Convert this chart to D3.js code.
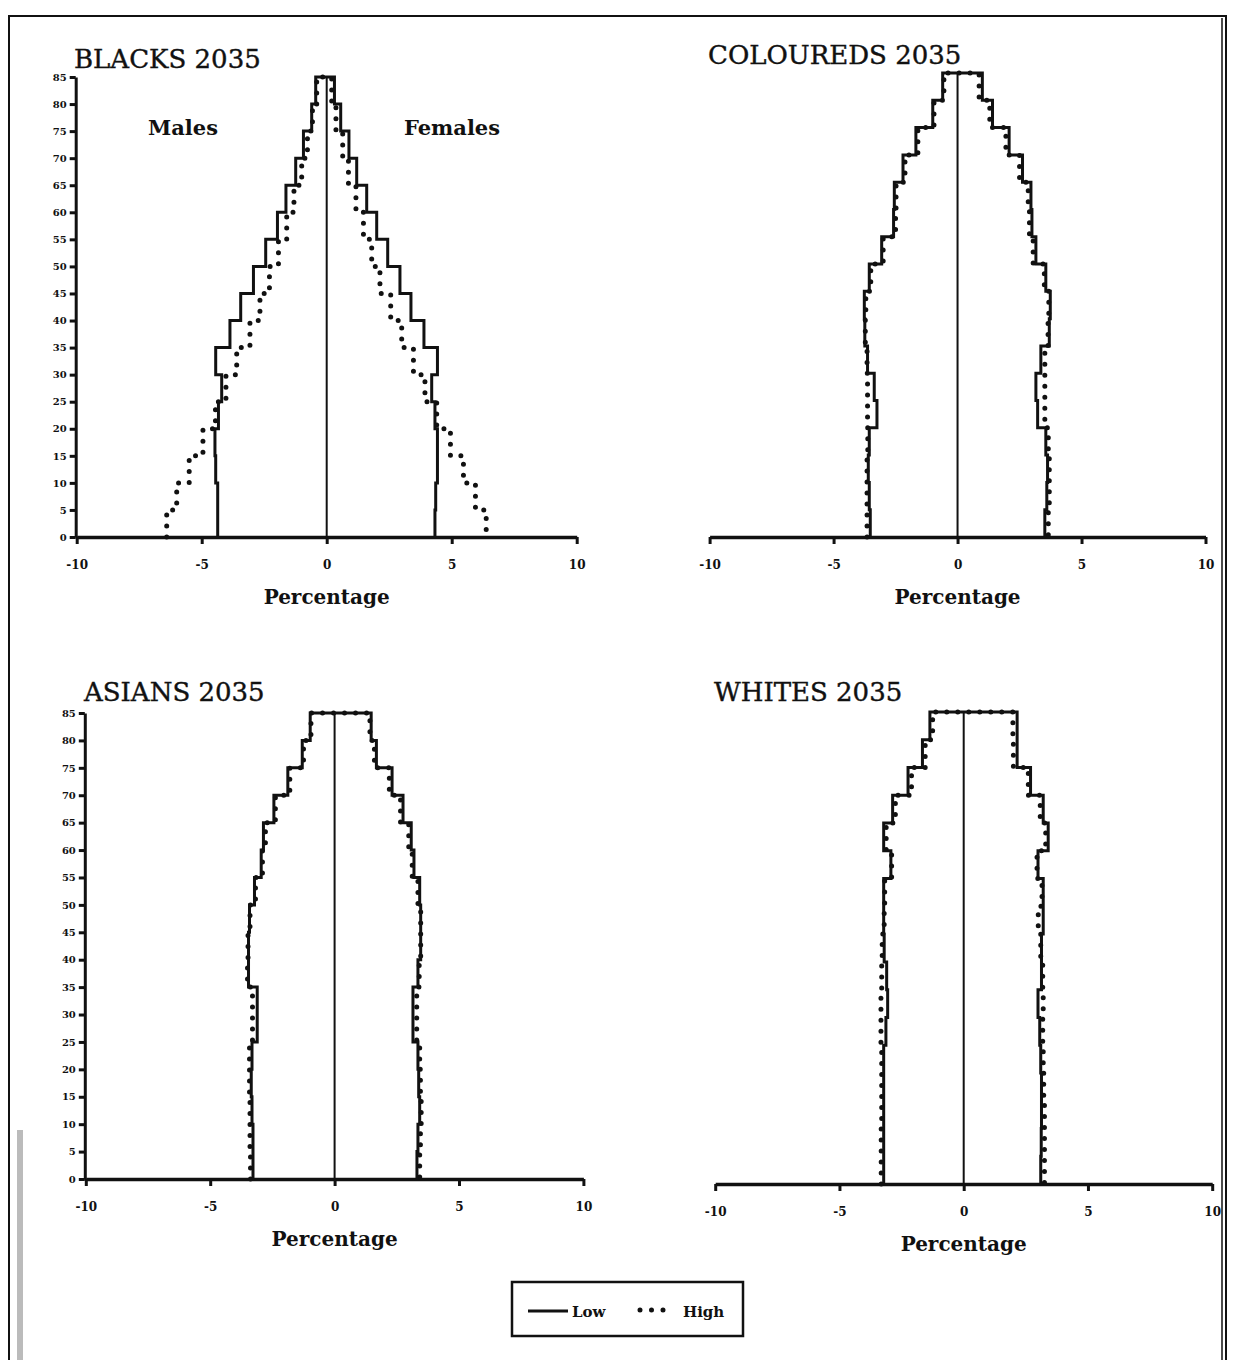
<!DOCTYPE html>
<html>
<head>
<meta charset="utf-8">
<script src="https://cdn.jsdelivr.net/npm/d3@7/dist/d3.min.js"></script>
<style>
  html, body { margin: 0; padding: 0; background: #fff; }
  svg { display: block; }
  .tick text { font-family: "DejaVu Serif", serif; font-weight: bold; fill: #111; }
</style>
</head>
<body>
<svg id="chart" width="1235" height="1360"></svg>
<script>
// ---------- DATA (percent of population, magnitudes; males plotted left) ----------
const ageGroups = ["0-4","5-9","10-14","15-19","20-24","25-29","30-34","35-39","40-44",
                   "45-49","50-54","55-59","60-64","65-69","70-74","75-79","80-84"];
const xTickValues = [-10, -5, 0, 5, 10];
const xTickLabels = ["-10", "-5", "0", "5", "10"];
const yTickValues = [0,5,10,15,20,25,30,35,40,45,50,55,60,65,70,75,80,85];
const seriesNames = ["Low", "High"];
const panelTitles = ["BLACKS 2035", "COLOUREDS 2035", "ASIANS 2035", "WHITES 2035"];

const blacksLowMale    = [4.36,4.36,4.44,4.47,4.33,4.20,4.44,3.87,3.44,2.93,2.44,1.97,1.63,1.24,0.93,0.60,0.44];
const blacksLowFemale  = [4.33,4.36,4.43,4.43,4.33,4.20,4.43,3.89,3.37,2.93,2.44,2.00,1.60,1.20,0.89,0.56,0.31];
const blacksHighMale   = [6.40,6.00,5.50,4.95,4.45,4.03,3.60,3.07,2.67,2.29,1.93,1.60,1.31,1.00,0.77,0.57,0.40];
const blacksHighFemale = [6.38,5.95,5.47,4.95,4.40,3.93,3.47,3.00,2.56,2.13,1.80,1.47,1.17,0.87,0.64,0.37,0.20];

const colouredsLowMale    = [3.52,3.56,3.60,3.56,3.25,3.36,3.63,3.74,3.76,3.56,3.06,2.58,2.55,2.20,1.68,1.00,0.60];
const colouredsLowFemale  = [3.52,3.60,3.63,3.56,3.23,3.16,3.36,3.70,3.74,3.56,3.16,3.00,2.96,2.62,2.08,1.41,1.00];
const colouredsHighMale   = [3.65,3.65,3.65,3.62,3.63,3.63,3.65,3.72,3.70,3.50,3.00,2.50,2.48,2.12,1.60,0.95,0.55];
const colouredsHighFemale = [3.66,3.70,3.70,3.66,3.52,3.52,3.52,3.65,3.68,3.50,3.05,2.90,2.85,2.50,1.95,1.30,0.87];

const asiansLowMale    = [3.28,3.28,3.32,3.35,3.32,3.11,3.11,3.46,3.46,3.42,3.22,2.95,2.86,2.44,1.88,1.30,0.98];
const asiansLowFemale  = [3.31,3.35,3.42,3.38,3.35,3.15,3.15,3.35,3.46,3.46,3.42,3.19,3.08,2.75,2.31,1.68,1.47];
const asiansHighMale   = [3.38,3.40,3.40,3.42,3.42,3.30,3.30,3.50,3.48,3.40,3.18,2.90,2.78,2.38,1.80,1.25,0.95];
const asiansHighFemale = [3.42,3.45,3.48,3.45,3.42,3.30,3.30,3.40,3.46,3.46,3.35,3.12,2.98,2.65,2.20,1.60,1.42];

const whitesLowMale    = [3.22,3.22,3.22,3.22,3.22,3.13,3.06,3.10,3.20,3.22,3.22,2.93,3.22,2.86,2.24,1.66,1.36];
const whitesLowFemale  = [3.10,3.12,3.13,3.13,3.10,3.06,2.99,3.13,3.13,3.20,3.20,2.99,3.40,3.20,2.69,2.15,2.15];
const whitesHighMale   = [3.32,3.32,3.30,3.30,3.30,3.33,3.33,3.30,3.28,3.20,3.18,2.90,3.12,2.75,2.10,1.55,1.25];
const whitesHighFemale = [3.25,3.25,3.25,3.22,3.20,3.18,3.20,3.18,3.10,3.00,3.15,2.95,3.30,3.08,2.60,2.00,1.98];

// ---------- LAYOUT ----------
const panels = [
  { title: panelTitles[0], low: [blacksLowMale, blacksLowFemale], high: [blacksHighMale, blacksHighFemale],
    x0: 76.7, x1: 576.7, yBot: 537, yTop: 77, yAxis: true, tx: 74, ty: 68, labels: true },
  { title: panelTitles[1], low: [colouredsLowMale, colouredsLowFemale], high: [colouredsHighMale, colouredsHighFemale],
    x0: 709.6, x1: 1205.5, yBot: 537, yTop: 73, yAxis: false, tx: 708, ty: 64 },
  { title: panelTitles[2], low: [asiansLowMale, asiansLowFemale], high: [asiansHighMale, asiansHighFemale],
    x0: 85.8, x1: 583.4, yBot: 1179, yTop: 713, yAxis: true, tx: 84, ty: 701 },
  { title: panelTitles[3], low: [whitesLowMale, whitesLowFemale], high: [whitesHighMale, whitesHighFemale],
    x0: 715.2, x1: 1212.2, yBot: 1184, yTop: 712, yAxis: false, tx: 714, ty: 701 }
];

const svg = d3.select("#chart");
const ink = "#111";

// outer frame
const frame = svg.append("g").attr("fill", "none").attr("stroke", ink);
frame.append("path").attr("d", "M9,1360 V16 H1226 V1360").attr("stroke-width", 2);
frame.append("path").attr("d", "M1222,18 V1360").attr("stroke-width", 1.5);
svg.append("rect").attr("x", 17).attr("y", 1130).attr("width", 6).attr("height", 230).attr("fill", "#bbb");

function outline(male, female) {
  const pts = [];
  male.forEach((v, i) => { pts.push([-v, i * 5]); pts.push([-v, (i + 1) * 5]); });
  for (let i = female.length - 1; i >= 0; i--) { pts.push([female[i], (i + 1) * 5]); pts.push([female[i], i * 5]); }
  return pts;
}

panels.forEach(p => {
  const x = d3.scaleLinear().domain([-10, 10]).range([p.x0, p.x1]);
  const y = d3.scaleLinear().domain([0, 85]).range([p.yBot, p.yTop]);
  const g = svg.append("g");
  const line = d3.line().x(d => x(d[0])).y(d => y(d[1]));

  // title
  g.append("text").attr("x", p.tx).attr("y", p.ty).text(p.title)
    .attr("font-family", "DejaVu Serif, serif").attr("font-size", 26)
    .attr("fill", ink).attr("stroke", ink).attr("stroke-width", 0.4);

  // x axis
  const xa = g.append("g").attr("transform", `translate(0,${p.yBot})`)
    .call(d3.axisBottom(x).tickValues(xTickValues).tickSize(7).tickSizeOuter(0).tickPadding(16)
      .tickFormat((d, i) => xTickLabels[i]));
  xa.select(".domain").attr("stroke", ink).attr("stroke-width", 3.5);
  xa.selectAll(".tick line").attr("stroke", ink).attr("stroke-width", 3);
  xa.selectAll(".tick text").attr("font-size", 12);

  g.append("text").attr("x", x(0)).attr("y", p.yBot + 67).attr("text-anchor", "middle")
    .text("Percentage").attr("font-family", "DejaVu Serif, serif").attr("font-weight", "bold")
    .attr("font-size", 20).attr("fill", ink);

  // y axis
  if (p.yAxis) {
    const ya = g.append("g").attr("transform", `translate(${p.x0 - 1},0)`)
      .call(d3.axisLeft(y).tickValues(yTickValues).tickSize(6).tickSizeOuter(0).tickPadding(3));
    ya.select(".domain").attr("stroke", ink).attr("stroke-width", 3);
    ya.selectAll(".tick line").attr("stroke", ink).attr("stroke-width", 3);
    ya.selectAll(".tick text").attr("font-size", 10);
  }

  // zero line
  g.append("line").attr("x1", x(0)).attr("x2", x(0)).attr("y1", y(0)).attr("y2", y(85))
    .attr("stroke", ink).attr("stroke-width", 2);

  // high scenario (dotted)
  g.append("path").datum(outline(p.high[0], p.high[1])).attr("d", line)
    .attr("fill", "none").attr("stroke", ink).attr("stroke-width", 5)
    .attr("stroke-linecap", "round").attr("stroke-dasharray", "0 11");
  // low scenario (solid)
  g.append("path").datum(outline(p.low[0], p.low[1])).attr("d", line)
    .attr("fill", "none").attr("stroke", ink).attr("stroke-width", 3).attr("stroke-linejoin", "miter");

  if (p.labels) {
    g.append("text").attr("x", 183).attr("y", 135).attr("text-anchor", "middle").text("Males")
      .attr("font-family", "DejaVu Serif, serif").attr("font-weight", "bold").attr("font-size", 21).attr("fill", ink);
    g.append("text").attr("x", 452).attr("y", 135).attr("text-anchor", "middle").text("Females")
      .attr("font-family", "DejaVu Serif, serif").attr("font-weight", "bold").attr("font-size", 21).attr("fill", ink);
  }
});

// legend
const lg = svg.append("g");
lg.append("rect").attr("x", 512).attr("y", 1282).attr("width", 231).attr("height", 54)
  .attr("fill", "none").attr("stroke", ink).attr("stroke-width", 2.5);
lg.append("line").attr("x1", 528).attr("x2", 568).attr("y1", 1311).attr("y2", 1311)
  .attr("stroke", ink).attr("stroke-width", 3);
lg.append("text").attr("x", 572).attr("y", 1317).text(seriesNames[0])
  .attr("font-family", "DejaVu Serif, serif").attr("font-weight", "bold").attr("font-size", 15).attr("fill", ink);
lg.append("line").attr("x1", 640).attr("x2", 664).attr("y1", 1310).attr("y2", 1310)
  .attr("stroke", ink).attr("stroke-width", 5).attr("stroke-linecap", "round").attr("stroke-dasharray", "0 11.5");
lg.append("text").attr("x", 683).attr("y", 1317).text(seriesNames[1])
  .attr("font-family", "DejaVu Serif, serif").attr("font-weight", "bold").attr("font-size", 15).attr("fill", ink);
</script>
</body>
</html>
